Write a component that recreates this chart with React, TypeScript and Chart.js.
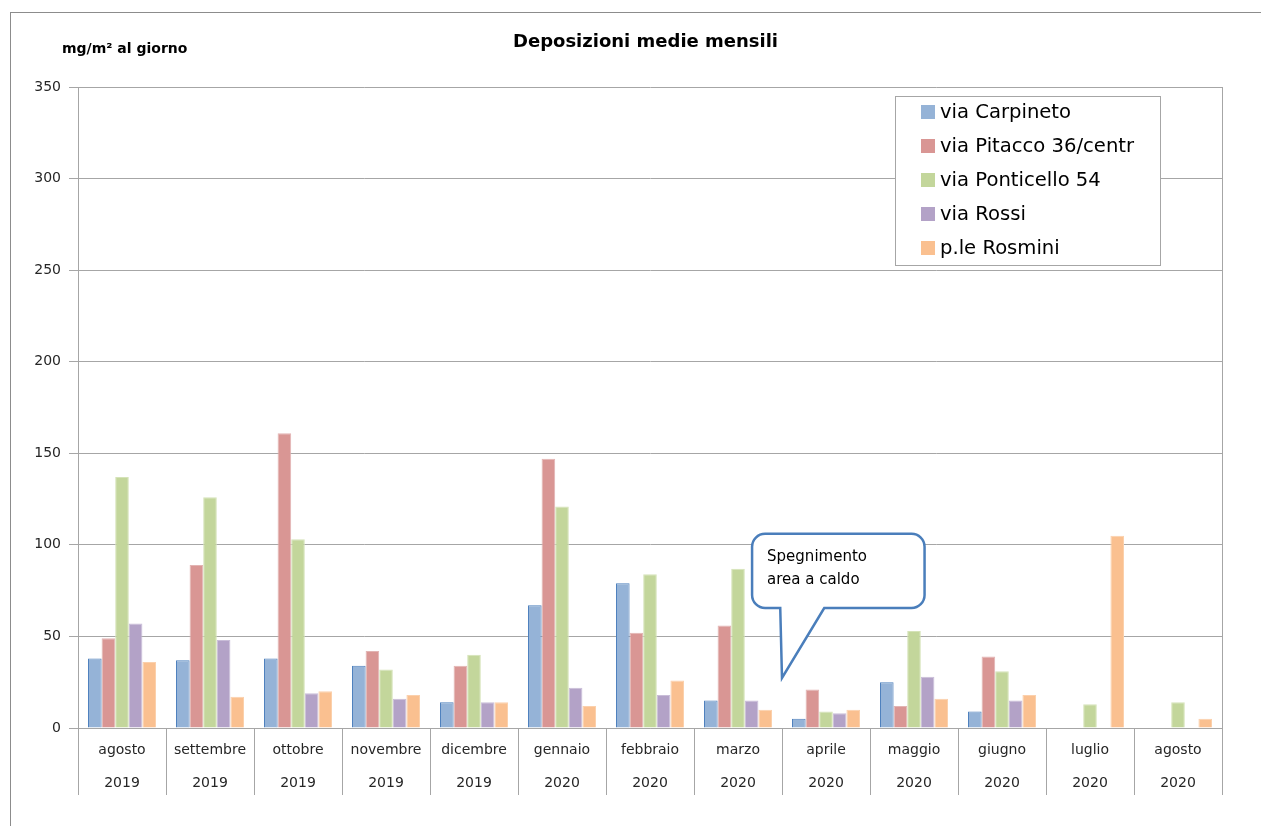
import React, { useEffect, useRef } from "react";
import { Chart, registerables } from "chart.js";

Chart.register(...registerables);

// ---------- data ----------
const months = ["agosto", "settembre", "ottobre", "novembre", "dicembre", "gennaio", "febbraio", "marzo", "aprile", "maggio", "giugno", "luglio", "agosto"];
const years = ["2019", "2019", "2019", "2019", "2019", "2020", "2020", "2020", "2020", "2020", "2020", "2020", "2020"];
const seriesNames = ["via Carpineto", "via Pitacco 36/centr", "via Ponticello 54", "via Rossi", "p.le Rosmini"];
const carpineto = [38, 37, 38, 34, 14, 67, 79, 15, 5, 25, 9, null, null];
const pitacco = [49, 89, 161, 42, 34, 147, 52, 56, 21, 12, 39, null, null];
const ponticello = [137, 126, 103, 32, 40, 121, 84, 87, 9, 53, 31, 13, 14];
const rossi = [57, 48, 19, 16, 14, 22, 18, 15, 8, 28, 15, null, null];
const rosmini = [36, 17, 20, 18, 14, 12, 26, 10, 10, 16, 18, 105, 5];
const yMin = 0;
const yMax = 350;
const yStep = 50;
const chartTitle = "Deposizioni medie mensili";
const yUnit = "mg/m² al giorno";
const calloutLines = ["Spegnimento", "area a caldo"];

// ---------- styles ----------
const fills = ["#95B3D7", "#D99694", "#C3D69B", "#B3A2C7", "#FAC090"];
const borders = ["#4F81BD", "#E2B4B3", "#D5E3B8", "#C9BDD8", "#FBD0AC"];
const FONT = "'DejaVu Sans', sans-serif";
const GRID = "#A6A6A6";
const TEXT = "#262626";

const extrasPlugin = {
  id: "extras",
  afterDraw(chart: any) {
    const { ctx, chartArea, scales } = chart;
    const x = scales.x;
    const y = scales.y;
    ctx.save();

    // category separators in the label area
    ctx.strokeStyle = GRID;
    ctx.lineWidth = 1;
    const n = chart.data.labels.length;
    for (let i = 0; i <= n; i++) {
      const px = Math.round(x.getPixelForValue(i - 0.5)) + 0.5;
      ctx.beginPath();
      ctx.moveTo(px, i === n ? chartArea.top : chartArea.bottom);
      ctx.lineTo(px, chartArea.bottom + 67);
      ctx.stroke();
    }

    // y unit label
    ctx.fillStyle = "#000";
    ctx.font = `bold 14px ${FONT}`;
    ctx.textAlign = "left";
    ctx.textBaseline = "middle";
    ctx.fillText(yUnit, chartArea.left - 16, chartArea.top - 38);

    // legend box
    const bw = 265, bh = 169;
    const bl = chartArea.right - 62 - bw;
    const bt = chartArea.top + 9;
    ctx.fillStyle = "#fff";
    ctx.fillRect(bl, bt, bw, bh);
    ctx.strokeStyle = GRID;
    ctx.strokeRect(Math.round(bl) + 0.5, Math.round(bt) + 0.5, bw, bh);
    ctx.font = `19.6px ${FONT}`;
    chart.data.datasets.forEach((ds: any, i: number) => {
      const cy = bt + 16 + i * 34;
      ctx.fillStyle = ds.backgroundColor;
      ctx.fillRect(bl + 26, cy - 7, 14, 14);
      ctx.fillStyle = "#000";
      ctx.fillText(ds.label, bl + 45, cy + 1);
    });

    // callout
    const left = x.getPixelForValue(7.16);
    const right = x.getPixelForValue(9.12);
    const top = y.getPixelForValue(106);
    const bottom = y.getPixelForValue(65.5);
    const t1 = x.getPixelForValue(7.48);
    const t2 = x.getPixelForValue(7.98);
    const tipX = x.getPixelForValue(7.5);
    const tipY = y.getPixelForValue(27.3);
    const r = 13;
    ctx.beginPath();
    ctx.moveTo(left + r, top);
    ctx.lineTo(right - r, top);
    ctx.arcTo(right, top, right, top + r, r);
    ctx.lineTo(right, bottom - r);
    ctx.arcTo(right, bottom, right - r, bottom, r);
    ctx.lineTo(t2, bottom);
    ctx.lineTo(tipX, tipY);
    ctx.lineTo(t1, bottom);
    ctx.lineTo(left + r, bottom);
    ctx.arcTo(left, bottom, left, bottom - r, r);
    ctx.lineTo(left, top + r);
    ctx.arcTo(left, top, left + r, top, r);
    ctx.closePath();
    ctx.fillStyle = "#fff";
    ctx.fill();
    ctx.strokeStyle = "#4A7EBB";
    ctx.lineWidth = 2.5;
    ctx.stroke();
    ctx.fillStyle = "#000";
    ctx.font = `15px ${FONT}`;
    calloutLines.forEach((l, i) => {
      ctx.fillText(l, left + 15, top + 23 + i * 23);
    });

    ctx.restore();
  },
};

export default function App() {
  const ref = useRef<HTMLCanvasElement | null>(null);

  useEffect(() => {
    if (!ref.current) return;
    const series = [carpineto, pitacco, ponticello, rossi, rosmini];
    const chart = new Chart(ref.current, {
      type: "bar",
      data: {
        labels: months.map((m, i) => [m, years[i]]),
        datasets: series.map((d, i) => ({
          label: seriesNames[i],
          data: d,
          backgroundColor: fills[i],
          borderColor: borders[i],
          borderWidth: 1,
          categoryPercentage: 0.773,
          barPercentage: 1,
        })),
      },
      options: {
        responsive: false,
        animation: false,
        devicePixelRatio: 1,
        layout: { padding: { left: 22, right: 0, top: 0, bottom: 0 } },
        plugins: {
          legend: { display: false },
          tooltip: { enabled: false },
          title: {
            display: true,
            text: chartTitle,
            color: "#000",
            font: { family: FONT, size: 18, weight: "bold", lineHeight: 1.2 },
            padding: { top: 23.2, bottom: 34.2 },
          },
        },
        scales: {
          x: {
            grid: { display: false, drawTicks: false },
            border: { display: true, color: GRID, width: 1 },
            ticks: {
              color: TEXT,
              font: { family: FONT, size: 14, lineHeight: 2.35 },
              padding: 6,
              maxRotation: 0,
              autoSkip: false,
            },
            afterFit(s: any) {
              s.height = 98;
            },
          },
          y: {
            min: yMin,
            max: yMax,
            ticks: {
              stepSize: yStep,
              color: TEXT,
              font: { family: FONT, size: 14 },
              padding: 8,
            },
            grid: { color: GRID, tickLength: 9, drawTicks: true },
            border: { display: true, color: GRID },
            afterFit(s: any) {
              s.width = 48;
            },
          },
          y2: {
            position: "right",
            display: true,
            grid: { display: false, drawTicks: false },
            border: { display: false },
            ticks: { display: false },
            afterFit(s: any) {
              s.width = 39;
            },
          },
        },
      },
      plugins: [extrasPlugin],
    } as any);
    return () => chart.destroy();
  }, []);

  return (
    <div style={{ position: "relative", width: 1253, height: 818, overflow: "hidden", background: "#fff" }}>
      <div
        style={{
          position: "absolute",
          left: 2,
          top: 4,
          width: 1400,
          height: 1000,
          border: "1px solid #8C8C8C",
          boxSizing: "border-box",
        }}
      />
      <canvas ref={ref} width={1253} height={818} style={{ position: "absolute", left: 0, top: 0, display: "block" }} />
    </div>
  );
}
